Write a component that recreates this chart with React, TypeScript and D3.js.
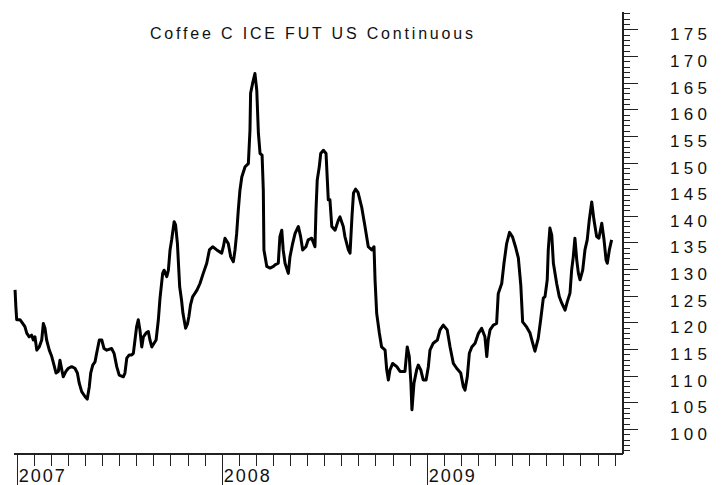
import React from "react";
import * as d3 from "d3";

// Decimal-year positions of the traced price points
const dates: number[] = [
  2006.992, 2006.996, 2007.0, 2007.016, 2007.024, 2007.04, 2007.049, 2007.061, 2007.073, 2007.081,
  2007.089, 2007.098, 2007.11, 2007.122, 2007.13, 2007.138, 2007.146, 2007.159, 2007.171, 2007.182,
  2007.192, 2007.203, 2007.211, 2007.22, 2007.227, 2007.24, 2007.252, 2007.268, 2007.284, 2007.296,
  2007.305, 2007.317, 2007.333, 2007.344, 2007.354, 2007.361, 2007.371, 2007.382, 2007.39, 2007.403,
  2007.415, 2007.426, 2007.439, 2007.463, 2007.475, 2007.488, 2007.5, 2007.52, 2007.528, 2007.537,
  2007.549, 2007.561, 2007.569, 2007.577, 2007.585, 2007.593, 2007.601, 2007.61, 2007.618, 2007.631,
  2007.642, 2007.65, 2007.659, 2007.67, 2007.68, 2007.691, 2007.699, 2007.712, 2007.719, 2007.732,
  2007.74, 2007.748, 2007.756, 2007.768, 2007.775, 2007.784, 2007.795, 2007.804, 2007.811, 2007.824,
  2007.833, 2007.84, 2007.848, 2007.858, 2007.87, 2007.88, 2007.894, 2007.91, 2007.927, 2007.94,
  2007.956, 2007.976, 2008.0, 2008.008, 2008.016, 2008.032, 2008.044, 2008.057, 2008.065, 2008.073,
  2008.081, 2008.089, 2008.098, 2008.114, 2008.13, 2008.138, 2008.141, 2008.151, 2008.162, 2008.171,
  2008.179, 2008.187, 2008.197, 2008.203, 2008.206, 2008.22, 2008.236, 2008.252, 2008.26, 2008.276,
  2008.284, 2008.293, 2008.3, 2008.309, 2008.325, 2008.333, 2008.346, 2008.358, 2008.374, 2008.385,
  2008.395, 2008.411, 2008.422, 2008.439, 2008.455, 2008.46, 2008.466, 2008.476, 2008.483, 2008.496,
  2008.509, 2008.52, 2008.528, 2008.537, 2008.553, 2008.569, 2008.577, 2008.593, 2008.601, 2008.618,
  2008.626, 2008.636, 2008.643, 2008.653, 2008.665, 2008.683, 2008.699, 2008.715, 2008.732, 2008.743,
  2008.748, 2008.756, 2008.769, 2008.78, 2008.797, 2008.805, 2008.813, 2008.821, 2008.834, 2008.854,
  2008.87, 2008.894, 2008.905, 2008.915, 2008.923, 2008.928, 2008.938, 2008.951, 2008.959, 2008.971,
  2008.983, 2008.997, 2009.008, 2009.016, 2009.032, 2009.052, 2009.065, 2009.081, 2009.1, 2009.114,
  2009.13, 2009.146, 2009.166, 2009.179, 2009.187, 2009.198, 2009.208, 2009.22, 2009.236, 2009.252,
  2009.268, 2009.284, 2009.293, 2009.3, 2009.309, 2009.325, 2009.341, 2009.349, 2009.366, 2009.377,
  2009.39, 2009.404, 2009.419, 2009.433, 2009.447, 2009.459, 2009.468, 2009.488, 2009.504, 2009.517,
  2009.528, 2009.544, 2009.556, 2009.569, 2009.577, 2009.588, 2009.593, 2009.601, 2009.61, 2009.618,
  2009.634, 2009.647, 2009.659, 2009.675, 2009.686, 2009.699, 2009.707, 2009.715, 2009.723, 2009.732,
  2009.74, 2009.748, 2009.761, 2009.772, 2009.783, 2009.793, 2009.805, 2009.816, 2009.829, 2009.84,
  2009.854, 2009.865, 2009.875, 2009.881, 2009.891, 2009.902,
];

// Coffee C prices (US cents / lb)
const prices: number[] = [
  126.1, 122.9, 120.5, 120.5, 120.1, 119.2, 118.0, 117.3, 117.6, 116.7,
  117.3, 114.8, 115.4, 116.7, 119.8, 118.9, 116.7, 114.8, 113.6, 112.0,
  110.5, 110.8, 112.9, 111.1, 109.8, 110.8, 111.4, 111.7, 111.4, 110.5,
  108.6, 107.0, 106.1, 105.6, 107.9, 110.5, 112.0, 112.6, 114.2, 116.7,
  116.7, 115.1, 114.8, 115.1, 114.2, 111.7, 110.1, 109.8, 110.5, 113.3,
  113.9, 113.9, 114.2, 116.7, 119.2, 120.5, 118.6, 115.4, 117.3, 118.0,
  118.3, 116.7, 115.4, 116.1, 116.7, 120.5, 124.5, 129.2, 129.8, 128.6,
  129.8, 133.6, 135.5, 138.9, 138.3, 134.8, 126.7, 124.2, 121.7, 118.9,
  119.7, 121.1, 123.3, 124.8, 125.5, 126.1, 127.3, 129.2, 131.1, 133.6,
  134.2, 133.6, 133.0, 134.2, 135.8, 134.8, 132.3, 131.4, 133.6, 136.7,
  141.1, 144.8, 147.3, 149.2, 149.8, 156.1, 163.0, 164.9, 166.7, 163.6,
  155.5, 151.7, 151.4, 144.8, 133.6, 130.5, 130.2, 130.5, 130.8, 131.1,
  136.1, 137.3, 133.6, 131.1, 129.2, 132.3, 134.8, 136.7, 138.0, 136.1,
  133.6, 134.2, 135.5, 135.8, 134.2, 141.1, 146.7, 149.2, 151.7, 152.3,
  151.7, 143.0, 143.0, 138.0, 137.3, 139.2, 139.8, 138.0, 136.1, 133.6,
  133.0, 140.2, 144.3, 145.0, 144.4, 141.6, 138.0, 134.2, 133.6, 134.2,
  128.0, 121.7, 118.0, 115.4, 114.8, 111.1, 109.2, 111.1, 112.3, 111.7,
  110.8, 110.8, 115.4, 113.6, 108.6, 103.6, 108.6, 111.1, 112.0, 111.1,
  109.2, 109.2, 111.7, 114.8, 116.1, 116.7, 118.6, 119.5, 118.6, 115.4,
  112.3, 111.4, 110.5, 107.9, 107.3, 109.8, 114.2, 115.4, 116.1, 117.9,
  118.9, 117.3, 113.6, 116.7, 118.6, 119.5, 119.8, 125.4, 127.3, 131.1,
  134.8, 136.9, 136.0, 134.2, 132.1, 127.0, 120.1, 119.1, 118.0, 116.1,
  114.6, 117.0, 120.5, 124.6, 124.8, 128.0, 133.6, 137.7, 136.4, 131.1,
  127.3, 124.8, 123.6, 122.3, 123.9, 125.5, 129.8, 132.3, 135.8, 131.7,
  129.2, 128.0, 129.8, 133.6, 135.5, 139.2, 142.6, 139.2, 136.1, 135.8,
  138.6, 135.5, 131.7, 131.1, 133.6, 135.5,
];

const yearLabels: number[] = [2007, 2008, 2009];
const priceLabels: number[] = [100, 105, 110, 115, 120, 125, 130, 135, 140, 145, 150, 155, 160, 165, 170, 175];
const title = "Coffee C ICE FUT US Continuous";

const W = 726;
const H = 485;
const FONT = "'Liberation Sans', Arial, sans-serif";

export default function App() {
  const x = d3.scaleLinear().domain([2007, 2010]).range([16.7, 16.7 + 3 * 205]);
  const y = d3.scaleLinear().domain([100, 175]).range([429, 29.3]);

  const axisY = 454;
  const axisX = 623;
  const axisLeft = 14;
  const axisTopVal = y.invert(12);
  const axisBottomVal = y.invert(axisY);

  const minorY = d3.range(Math.ceil(axisBottomVal), Math.floor(axisTopVal) + 1).filter((v) => v % 5 !== 0);

  const monthTicks: number[] = [];
  yearLabels.forEach((yr) => {
    for (let m = 1; m < 12; m++) {
      const v = yr + m / 12;
      if (x(v) <= axisX) monthTicks.push(v);
    }
  });

  const pts = dates.map((d, i) => [d, prices[i]] as [number, number]);
  const line = d3
    .line<[number, number]>()
    .x((d) => x(d[0]))
    .y((d) => y(d[1]));

  return (
    <svg
      width={W}
      height={H}
      style={{ position: "absolute", left: 0, top: 0, background: "#fff" }}
    >
      <rect x={0} y={0} width={W} height={H} fill="#fff" />
      <text
        x={311.5}
        y={39}
        textAnchor="middle"
        fontFamily={FONT}
        fontSize={16}
        fill="#111"
        textLength={323}
        lengthAdjust="spacing"
      >
        {title}
      </text>

      {/* right axis */}
      <line x1={axisX} x2={axisX} y1={12} y2={axisY} stroke="#222" strokeWidth={2} />
      {minorY.map((v) => (
        <line key={"mn" + v} x1={axisX} x2={axisX + 7} y1={Math.round(y(v)) + 0.5} y2={Math.round(y(v)) + 0.5} stroke="#222" strokeWidth={1} />
      ))}
      {priceLabels.map((v) => (
        <g key={"pl" + v}>
          <line x1={axisX} x2={axisX + 15} y1={Math.round(y(v)) + 0.5} y2={Math.round(y(v)) + 0.5} stroke="#222" strokeWidth={1} />
          <text
            x={670}
            y={y(v) + 11}
            fontFamily={FONT}
            fontSize={17}
            fill="#111"
            textLength={37}
            lengthAdjust="spacing"
          >
            {v}
          </text>
        </g>
      ))}

      {/* bottom axis */}
      <line x1={axisLeft} x2={axisX} y1={axisY} y2={axisY} stroke="#222" strokeWidth={2} />
      {monthTicks.map((v, i) => (
        <line key={"mt" + i} x1={Math.round(x(v)) + 0.5} x2={Math.round(x(v)) + 0.5} y1={axisY} y2={axisY + 12} stroke="#222" strokeWidth={1} />
      ))}
      {yearLabels.map((yr) => (
        <g key={"yr" + yr}>
          <line x1={Math.round(x(yr)) + 0.5} x2={Math.round(x(yr)) + 0.5} y1={axisY} y2={H} stroke="#222" strokeWidth={1} />
          <text
            x={x(yr) + 2}
            y={482}
            fontFamily={FONT}
            fontSize={18}
            fill="#111"
            textLength={46}
            lengthAdjust="spacing"
          >
            {yr}
          </text>
        </g>
      ))}

      {/* price line */}
      <path d={line(pts) || ""} fill="none" stroke="#000" strokeWidth={3} strokeLinejoin="round" />
    </svg>
  );
}
